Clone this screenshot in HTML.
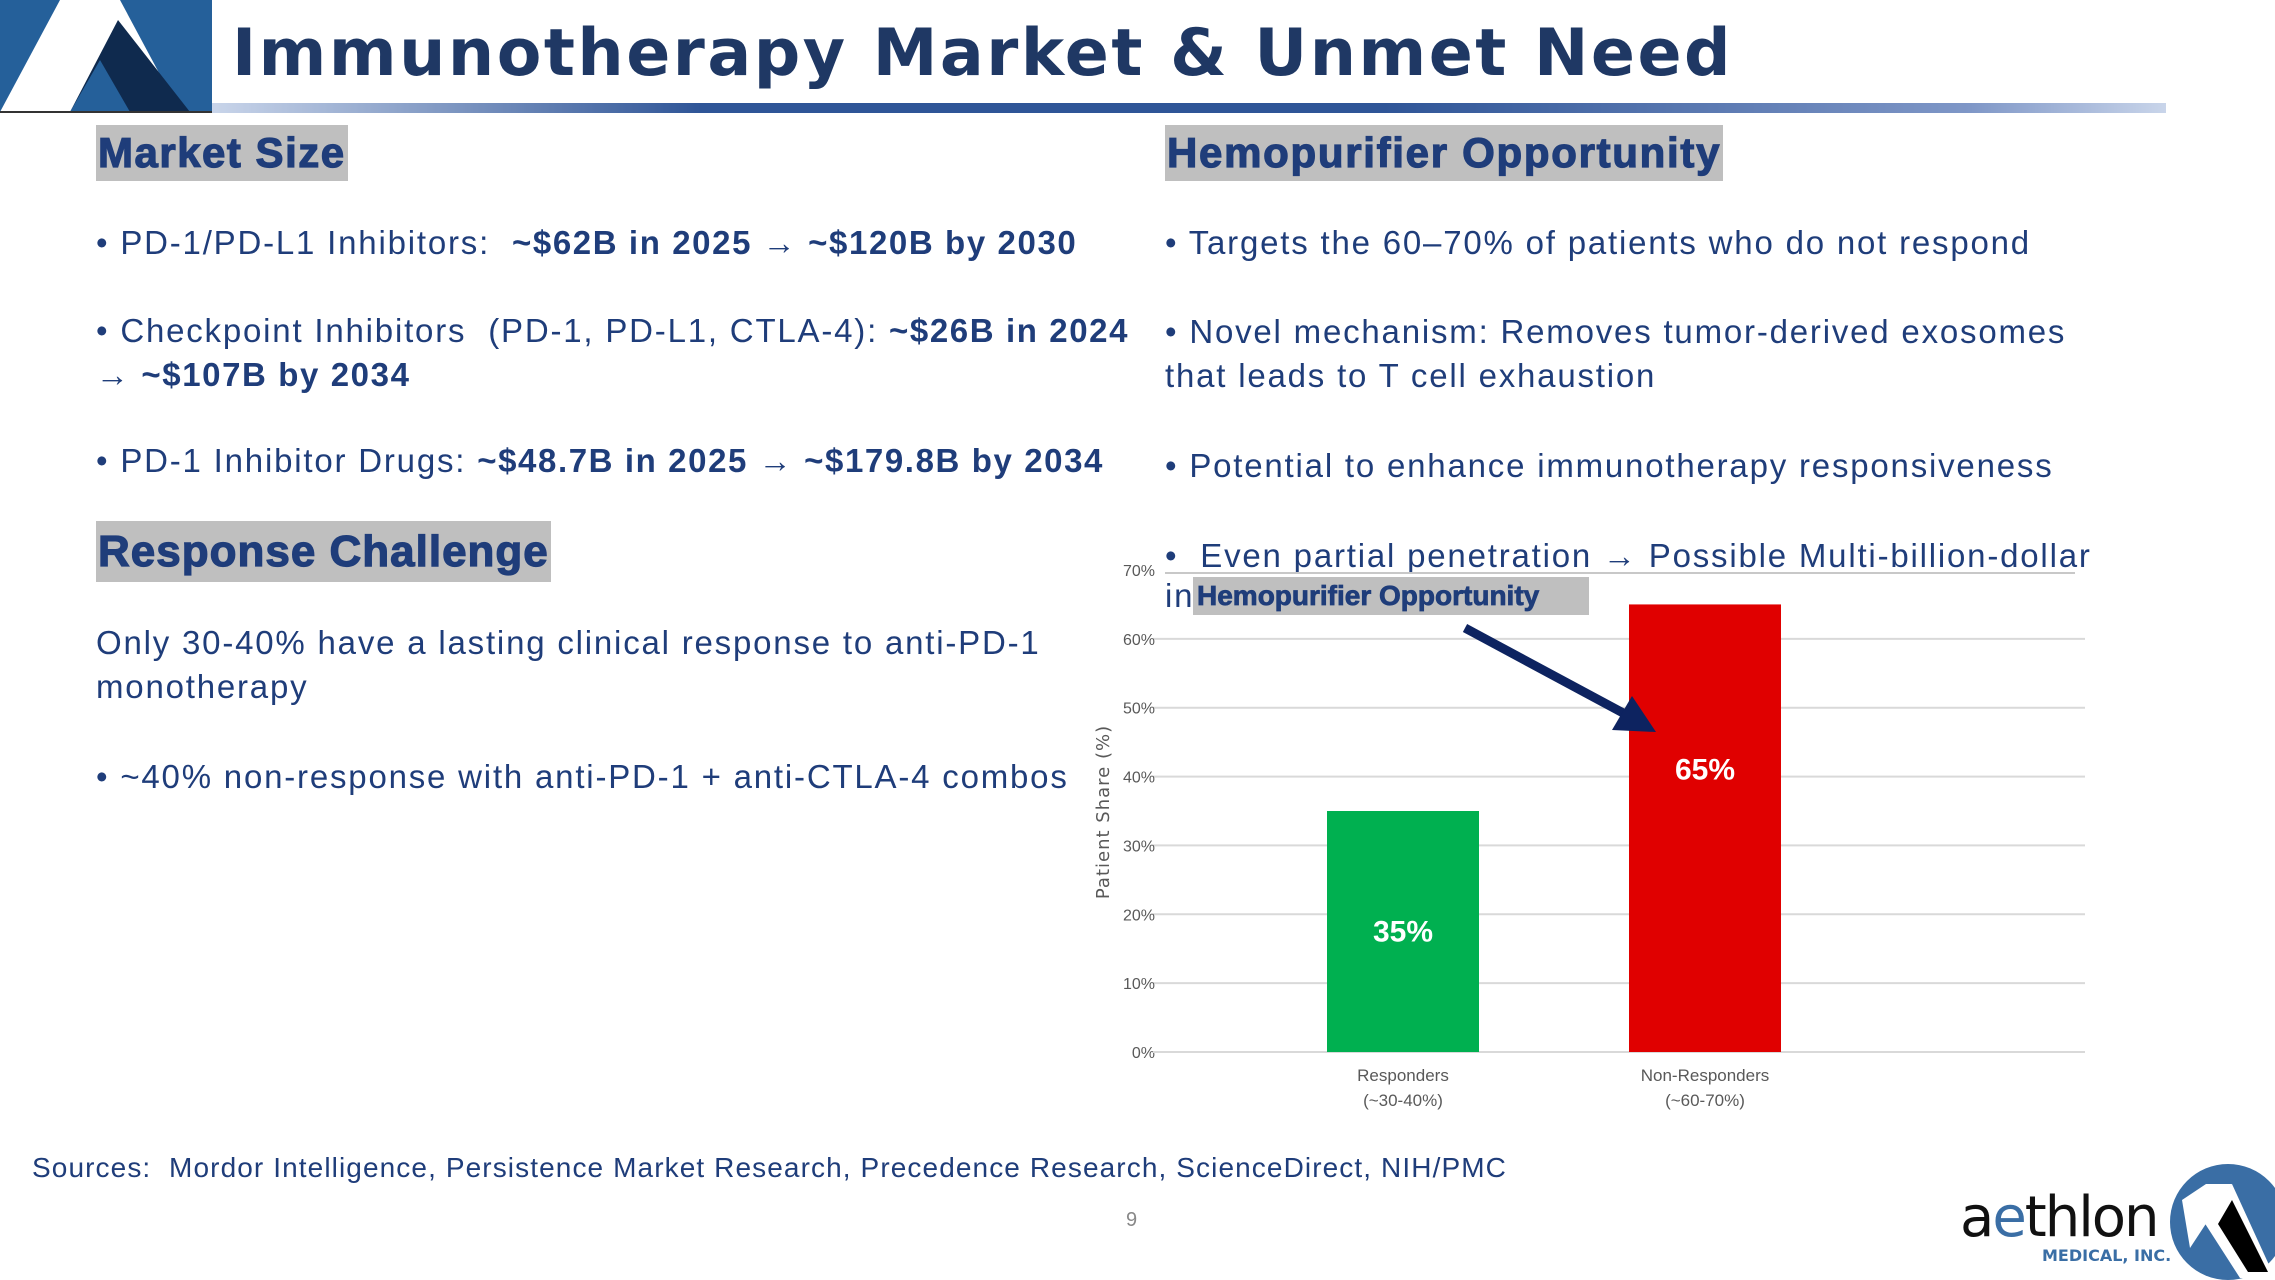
<!DOCTYPE html>
<html><head><meta charset="utf-8">
<style>
body{margin:0;width:2275px;height:1280px;overflow:hidden;background:#fff;position:relative;font-family:"Liberation Sans",sans-serif;color:#1f3d7a}
.a{position:absolute;white-space:nowrap}
.t{font-size:33px;line-height:1;letter-spacing:1.8px}
.b{font-weight:bold;letter-spacing:1.6px}
.hd{position:absolute;background:#bfbfbf;font-weight:bold;font-size:42px;color:#1f3d7a;padding:0 2px;line-height:56px;letter-spacing:0.6px;-webkit-text-stroke:1.2px #1f3d7a}
</style></head><body>
<svg class="a" style="left:0;top:0" width="214" height="114">
<rect x="0" y="0" width="212" height="112" fill="#25609a"/>
<polygon points="0,112 60,0 120,0 180,112" fill="#fff"/>
<polygon points="70,112 118,20 190,112" fill="#0f2a4e"/>
<polygon points="70,112 100,60 130,112" fill="#25609a"/>
<rect x="0" y="111" width="212" height="2" fill="#333"/>
</svg>
<div class="a b" style="left:232px;top:16px;font-family:'DejaVu Sans','Liberation Sans',sans-serif;font-size:65px;letter-spacing:2.5px;color:#1f3864">Immunotherapy Market &amp; Unmet Need</div>
<div class="a" style="left:212px;top:103px;width:1954px;height:10px;background:linear-gradient(90deg,#c9d5ea 0%,#2f5597 25%,#2f5597 60%,#7f97c7 90%,#c9d5ea 100%)"></div>

<div class="hd" style="left:96px;top:125px;letter-spacing:1.5px">Market Size</div>
<div class="a t" style="left:96px;top:226px">• PD-1/PD-L1 Inhibitors:&nbsp; <span class="b">~$62B in 2025 → ~$120B by 2030</span></div>
<div class="a t" style="left:96px;top:314px">• Checkpoint Inhibitors&nbsp; (PD-1, PD-L1, CTLA-4): <span class="b">~$26B in 2024</span></div>
<div class="a t" style="left:96px;top:358px"><span class="b">→ ~$107B by 2034</span></div>
<div class="a t" style="left:96px;top:444px">• PD-1 Inhibitor Drugs: <span class="b">~$48.7B in 2025 → ~$179.8B by 2034</span></div>

<div class="hd" style="left:96px;top:521px;line-height:61px;font-size:44px;letter-spacing:1px">Response Challenge</div>
<div class="a t" style="left:96px;top:626px">Only 30-40% have a lasting clinical response to anti-PD-1</div>
<div class="a t" style="left:96px;top:670px">monotherapy</div>
<div class="a t" style="left:96px;top:760px">• ~40% non-response with anti-PD-1 + anti-CTLA-4 combos</div>

<div class="hd" style="left:1165px;top:125px;letter-spacing:1.7px">Hemopurifier Opportunity</div>
<div class="a t" style="left:1165px;top:226px">• Targets the 60–70% of patients who do not respond</div>
<div class="a t" style="left:1165px;top:315px">• Novel mechanism: Removes tumor-derived exosomes</div>
<div class="a t" style="left:1165px;top:359px">that leads to T cell exhaustion</div>
<div class="a t" style="left:1165px;top:449px">• Potential to enhance immunotherapy responsiveness</div>
<div class="a t" style="left:1165px;top:539px">•&nbsp; Even partial penetration → Possible Multi-billion-dollar</div>
<div class="a t" style="left:1165px;top:579px">in</div>
<div class="a" style="left:1165px;top:572px;width:910px;height:2px;background:#c8c8c8"></div>

<svg class="a" id="chart" style="left:0;top:0" width="2275" height="1280"></svg>

<div class="a" style="left:1193px;top:577px;width:396px;height:38px;background:#bfbfbf;font-weight:bold;font-size:28px;line-height:38px;color:#1f3d7a;padding-left:4px;box-sizing:border-box;-webkit-text-stroke:0.8px #1f3d7a">Hemopurifier Opportunity</div>
<svg class="a" style="left:0;top:0" width="2275" height="1280">
<line x1="1465" y1="628" x2="1625" y2="714" stroke="#0d2360" stroke-width="9"/>
<polygon points="1656,732 1612,730 1632,696" fill="#0d2360"/>
</svg>

<div class="a" style="left:32px;top:1152px;font-size:28px;letter-spacing:1.1px;color:#1f3d7a">Sources:&nbsp; Mordor Intelligence, Persistence Market Research, Precedence Research, ScienceDirect, NIH/PMC</div>
<div class="a" style="left:1126px;top:1209px;font-size:20px;color:#888">9</div>

<div class="a" style="left:1960px;top:1190px;font-family:'DejaVu Sans','Liberation Sans',sans-serif;font-size:56px;line-height:1;color:#111;letter-spacing:-2px">a<span style="color:#3a6ea5">e</span>thlon</div>
<div class="a" style="left:2042px;top:1246px;font-family:'DejaVu Sans','Liberation Sans',sans-serif;font-size:16px;font-weight:bold;color:#3a6ea5">MEDICAL, INC.</div>
<svg class="a" style="left:2160px;top:1160px" width="115" height="120">
<circle cx="68" cy="62" r="58" fill="#3a6ea5"/>
<polygon points="22,40 46,24 72,24 30,88" fill="#fff"/>
<polygon points="72,24 115,118 80,118 44,62" fill="#fff"/>
<polygon points="72,40 108,112 88,112 58,64" fill="#000"/>
</svg>

<script>
const categories=["Responders\n(~30-40%)","Non-Responders\n(~60-70%)"];
const values=[35,65];
const barColors=["#00b050","#e00000"];
const yTicks=[0,10,20,30,40,50,60,70];
const svg=document.getElementById('chart');
const NS='http://www.w3.org/2000/svg';
const x0=1153,x1=2085,yBase=1052,yTop=570,yMax=70;
function yS(v){return yBase-(v/yMax)*(yBase-yTop);}
function xC(i){return 1403+i*302;}
function mk(t,a){const e=document.createElementNS(NS,t);for(const k in a)e.setAttribute(k,a[k]);svg.appendChild(e);return e;}
yTicks.forEach(t=>{
  if(t>0&&t<70){const g=mk('line',{x1:x0,x2:x1,y1:yS(t),y2:yS(t),stroke:'#d9d9d9','stroke-width':2});
  
  }
  const l=mk('text',{x:1155,y:yS(t)+6,'text-anchor':'end','font-size':16,fill:'#595959','font-family':'Liberation Sans, sans-serif'});
  l.textContent=t+'%';
  
  
});
const ax=mk('line',{x1:x0,x2:x1,y1:yBase,y2:yBase,stroke:'#d9d9d9','stroke-width':2});


const bw=152;
values.forEach((v,i)=>{
  const r=mk('rect',{x:xC(i)-bw/2,y:yS(v),width:bw,height:yBase-yS(v),fill:barColors[i]});
  
  
  const lb=mk('text',{x:xC(i),y:yS(v-Math.min(v/2,24))+10,'text-anchor':'middle','font-size':30,'font-weight':'bold',fill:'#fff','font-family':'Liberation Sans, sans-serif'});
  lb.textContent=v+'%';
  
  
  categories[i].split('\n').forEach((s,j)=>{
    const c=mk('text',{x:xC(i),y:1081+j*25,'text-anchor':'middle','font-size':17,fill:'#595959','font-family':'Liberation Sans, sans-serif'});
    c.textContent=s;
    
    
  });
});
const yt=mk('text',{x:0,y:0,transform:'translate(1109,812) rotate(-90)','text-anchor':'middle','font-size':18,fill:'#595959','letter-spacing':'1','font-family':'DejaVu Sans, sans-serif'});
yt.textContent='Patient Share (%)';


</script>
</body></html>
